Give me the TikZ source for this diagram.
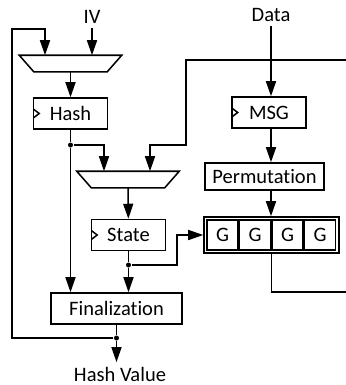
\documentclass[tikz,border=0pt]{standalone}
\usepackage{fontspec}
\setmainfont{Carlito}[Ligatures=NoCommon]
\usetikzlibrary{calc,positioning,arrows.meta}
\tikzset{blk/.style={draw,rectangle,minimum width=2.22cm,minimum height=0.93cm,inner sep=0pt},mux/.style={rectangle,minimum width=3.03cm,minimum height=0.45cm,inner sep=0pt}}
\tikzstyle{arrow}     = [-{Triangle[length=0.45cm,width=0.3cm]}]
\tikzstyle{dot}       = [circle,fill=black,inner sep=0pt,minimum size=0.15cm]
\tikzstyle{clk}       = [path picture={\draw ([yshift=0.13cm]path picture bounding box.west) -- ++(0.17cm,-0.13cm) -- ++(-0.17cm,-0.13cm);}]
\newcommand{\muxoutline}[1]{\draw (#1.north west) -- (#1.north east) -- ([xshift=-0.435cm]#1.south east) -- ([xshift=0.435cm]#1.south west) -- cycle;}

\begin{document}
\begin{tikzpicture}[x=0.03cm,y=-0.03cm,line width=1.3pt,font=\fontsize{17.5}{20}\selectfont]
	\useasboundingbox (0,0) rectangle (346,385);

	\node (iv) at (92,17) {IV};
	\node (data) at (271,15) {Data};
	\node[mux] (mux1) at (70.5,63.5) {};
	\muxoutline{mux1}
	\node[blk,clk] (hash) at (70.5,113.5) {Hash};
	\node[mux] (mux2) at (128,179.5) {};
	\muxoutline{mux2}
	\node[blk,clk] (state) at (128.5,235) {State};
	\node[blk,minimum width=3.93cm] (fin) at (116.5,308.5) {Finalization};
	\node (hv) at (120,374) {Hash Value};

	\node[blk,clk] (msg) at (269,112.5) {MSG};
	\node[blk,minimum width=3.57cm,minimum height=0.81cm] (perm) at (264.5,176.5) {Permutation};
	\node[blk,minimum width=4.05cm,minimum height=1.08cm] (gbox) at (271.5,235) {};
	\foreach \i in {0,...,3}
		\node[blk,minimum width=0.93cm,minimum height=0.9cm] (g\i) at (222.5+32.5*\i,235) {G};

	\node[dot] (d1) at (70.5,145) {};
	\node[dot] (d2) at (128.5,265) {};
	\node[dot] (d3) at (116.5,338) {};
	\coordinate (fbtop) at (12,29);
	\coordinate (gin) at (346,60);
	\coordinate (gturn) at (186,145);
	\coordinate (gout) at (346,292);

	\draw[arrow] (iv) -- (iv |- mux1.north);
	\draw[arrow] (d3) -| (fbtop) -| ($(mux1.north)+(-25.5,0)$);
	\draw[arrow] (mux1) -- (hash);
	\draw (hash) -- (d1);
	\draw[arrow] (d1) -- (d1 |- fin.north);
	\draw[arrow] (d1) -| ($(mux2.north)+(-24,0)$);
	\draw[arrow] (gin) -| (gturn) -| ($(mux2.north)+(22,0)$);
	\draw[arrow] (mux2) -- (state);
	\draw (state) -- (d2);
	\draw[arrow] (d2) -- (d2 |- fin.north);
	\draw[arrow] (d2) -| ($(gbox.west)+(-26,0)$) -- (gbox.west);
	\draw (fin) -- (d3);
	\draw[arrow] (d3) -- (hv.north -| d3);

	\draw[arrow] (data) -- (data |- msg.north);
	\draw[arrow] (msg.south -| data) -- (data |- perm.north);
	\draw[arrow] (perm.south -| data) -- (data |- gbox.north);
	\draw (gbox) |- (gout);
\end{tikzpicture}
\end{document}
